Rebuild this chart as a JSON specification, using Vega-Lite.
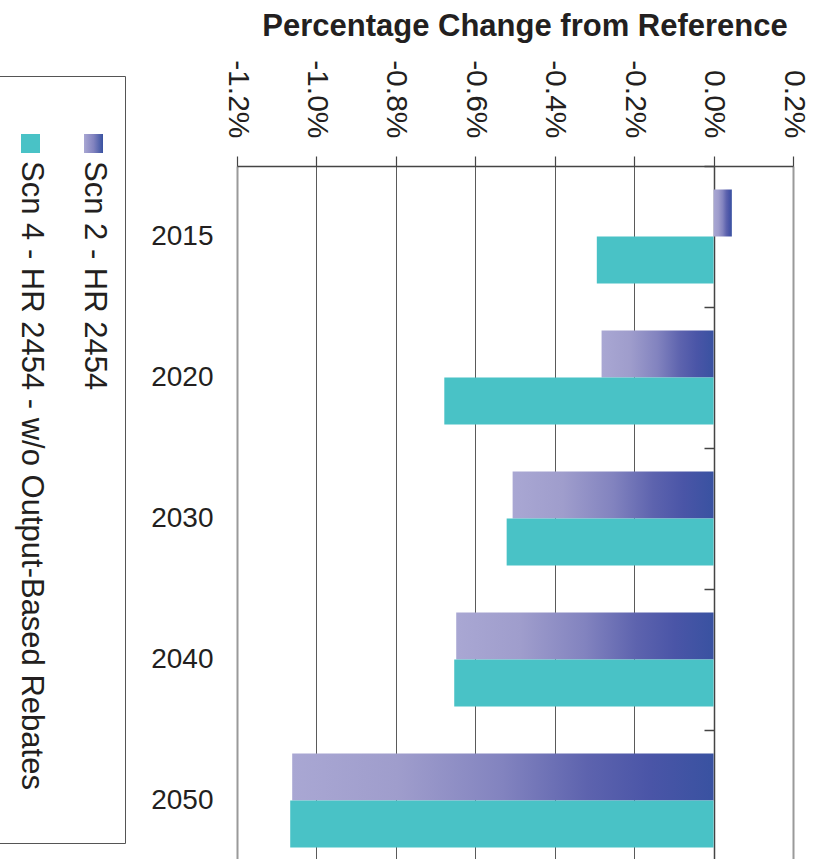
{
  "$schema": "https://vega.github.io/schema/vega-lite/v6.json",
  "background": "white",
  "padding": {"left": -2, "top": 9, "right": 6, "bottom": 0},
  "config": {"font": "Liberation Sans", "view": {"stroke": null}},
  "datasets": {
    "bars": [
      {"year": "2015", "series": "Scn 2 - HR 2454", "value": 0.046},
      {"year": "2015", "series": "Scn 4 - HR 2454 - w/o Output-Based Rebates", "value": -0.294},
      {"year": "2020", "series": "Scn 2 - HR 2454", "value": -0.282},
      {"year": "2020", "series": "Scn 4 - HR 2454 - w/o Output-Based Rebates", "value": -0.678},
      {"year": "2030", "series": "Scn 2 - HR 2454", "value": -0.506},
      {"year": "2030", "series": "Scn 4 - HR 2454 - w/o Output-Based Rebates", "value": -0.521},
      {"year": "2040", "series": "Scn 2 - HR 2454", "value": -0.648},
      {"year": "2040", "series": "Scn 4 - HR 2454 - w/o Output-Based Rebates", "value": -0.653},
      {"year": "2050", "series": "Scn 2 - HR 2454", "value": -1.061},
      {"year": "2050", "series": "Scn 4 - HR 2454 - w/o Output-Based Rebates", "value": -1.066}
    ],
    "legend": [
      {"series": "Scn 2 - HR 2454"},
      {"series": "Scn 4 - HR 2454 - w/o Output-Based Rebates"}
    ]
  },
  "spacing": 24,
  "hconcat": [
    {
      "spacing": 0,
      "vconcat": [
        {
          "width": 126,
          "height": 66,
          "data": {"values": []},
          "mark": "point",
          "encoding": {}
        },
        {
          "width": 126,
          "height": 767,
          "view": {"stroke": "#555555", "strokeWidth": 1},
          "data": {"name": "legend"},
          "encoding": {
            "x": {
              "field": "series",
              "type": "nominal",
              "scale": {"type": "point", "padding": 0.5, "domain": ["Scn 4 - HR 2454 - w/o Output-Based Rebates", "Scn 2 - HR 2454"]},
              "axis": null
            }
          },
          "layer": [
            {
              "transform": [{"filter": "datum.series == 'Scn 2 - HR 2454'"}],
              "mark": {
                "type": "square",
                "size": 361,
                "opacity": 1,
                "color": {
                  "gradient": "linear", "x1": 0, "x2": 1, "y1": 0, "y2": 0,
                  "stops": [
                    {"offset": 0, "color": "#A9A7D3"},
                    {"offset": 0.5, "color": "#8283BF"},
                    {"offset": 1, "color": "#3952A1"}
                  ]
                }
              },
              "encoding": {"y": {"value": 67.5}}
            },
            {
              "transform": [{"filter": "datum.series != 'Scn 2 - HR 2454'"}],
              "mark": {"type": "square", "size": 361, "opacity": 1, "color": "#49C2C6"},
              "encoding": {"y": {"value": 67.5}}
            },
            {
              "mark": {"type": "text", "angle": 90, "align": "left", "baseline": "middle", "fontSize": 31, "color": "#231F20"},
              "encoding": {"y": {"value": 85}, "text": {"field": "series"}}
            }
          ]
        }
      ]
    },
    {
      "spacing": 0,
      "vconcat": [
        {
          "width": 556,
          "height": 1,
          "data": {"values": []},
          "mark": "point",
          "encoding": {}
        },
        {
          "width": 556,
          "height": 694,
          "title": {"text": "Percentage Change from Reference", "fontSize": 31, "fontWeight": "bold", "color": "#231F20", "anchor": "middle", "dx": 10, "offset": 17},
          "data": {"name": "bars"},
          "encoding": {
            "y": {
              "field": "year",
              "type": "nominal",
              "scale": {"range": [0, 705], "paddingInner": 0, "paddingOuter": 0},
              "axis": {
                "orient": "left", "offset": -477, "title": null,
                "domain": true, "domainColor": "#444444", "domainWidth": 1.5,
                "ticks": true, "tickBand": "extent", "tickSize": 10, "tickColor": "#444444", "tickWidth": 1.5,
                "labelPadding": 491, "labelFontSize": 28, "labelColor": "#231F20", "labelAlign": "right", "labelBaseline": "middle",
                "grid": false
              }
            },
            "yOffset": {
              "field": "series",
              "type": "nominal",
              "scale": {"domain": ["Scn 2 - HR 2454", "Scn 4 - HR 2454 - w/o Output-Based Rebates"], "paddingInner": 0, "paddingOuter": 0.5}
            },
            "x": {
              "field": "value",
              "type": "quantitative",
              "scale": {"domain": [-1.2, 0.2], "nice": false, "zero": false},
              "axis": {
                "orient": "top", "title": null,
                "values": [-1.2, -1, -0.8, -0.6, -0.4, -0.2, 0, 0.2],
                "labelExpr": "(datum.value < -0.001 ? '-' : '') + format(abs(datum.value), '.1f') + '%'",
                "labelAngle": 90, "labelAlign": "right", "labelBaseline": "middle",
                "labelFontSize": 30, "labelColor": "#231F20", "labelPadding": 18,
                "labelFlush": false, "labelOverlap": false,
                "tickSize": 10, "tickColor": "#444444", "tickWidth": 1.2,
                "domainColor": "#444444", "domainWidth": 1.5,
                "grid": true,
                "gridColor": {"condition": {"test": "datum.value < -1.19 || datum.value > 0.19", "value": "#9A9A9A"}, "value": "#5A5A5A"},
                "gridWidth": {"condition": {"test": "datum.value < -1.19 || datum.value > 0.19", "value": 2}, "value": 1}
              }
            },
            "x2": {"datum": 0}
          },
          "layer": [
            {
              "transform": [{"filter": "datum.series == 'Scn 2 - HR 2454'"}],
              "mark": {
                "type": "bar",
                "color": {
                  "gradient": "linear", "x1": 0, "x2": 1, "y1": 0, "y2": 0,
                  "stops": [
                    {"offset": 0, "color": "#A9A7D3"},
                    {"offset": 0.25, "color": "#9F9DCC"},
                    {"offset": 0.5, "color": "#8283BF"},
                    {"offset": 0.7, "color": "#5D63AE"},
                    {"offset": 0.85, "color": "#4A55A7"},
                    {"offset": 1, "color": "#3952A1"}
                  ]
                }
              }
            },
            {
              "transform": [{"filter": "datum.series != 'Scn 2 - HR 2454'"}],
              "mark": {"type": "bar", "color": "#49C2C6"}
            }
          ]
        }
      ]
    }
  ]
}
